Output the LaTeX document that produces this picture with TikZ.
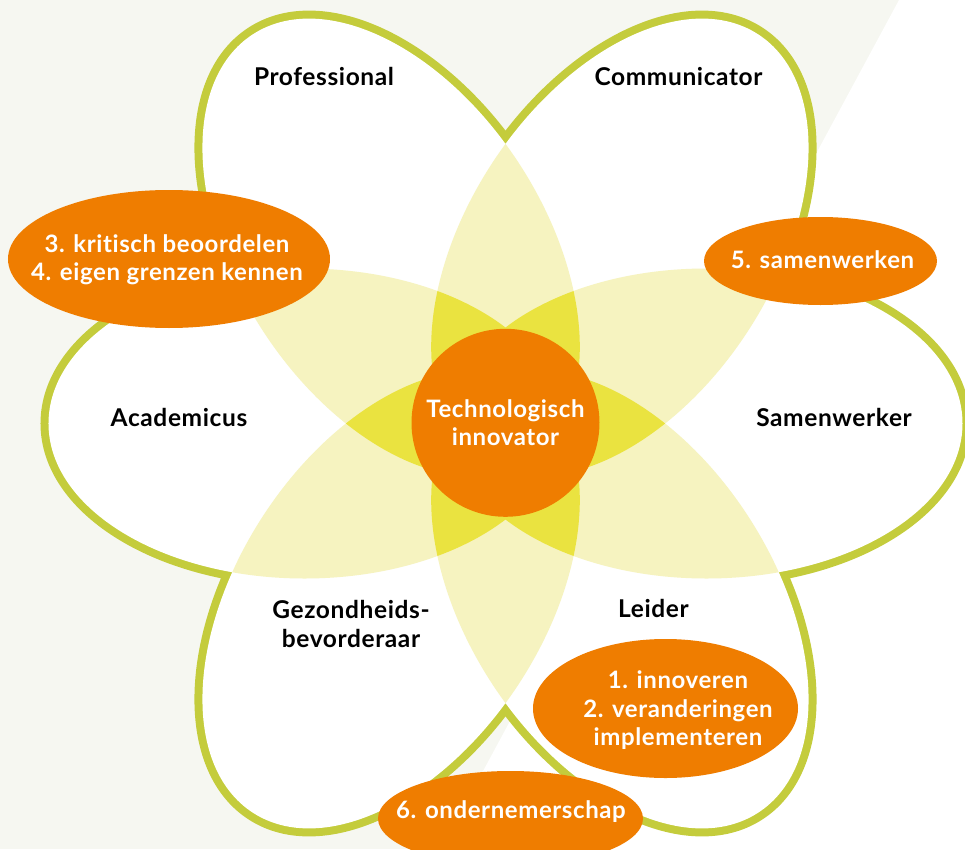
\documentclass[tikz,border=0pt]{standalone}
\usepackage{fontspec}
\setmainfont{Lato}[LetterSpace = 2.5, Ligatures = NoCommon]
\definecolor{paper}{RGB}{246,247,241}
\definecolor{rimgreen}{RGB}{196,204,60}
\definecolor{paleyellow}{RGB}{246,243,192}
\definecolor{brightyellow}{RGB}{234,227,64}
\definecolor{oranje}{RGB}{239,125,0}
\newcommand{\academicus}{(-201,0) ellipse [x radius=256, y radius=155]}
\newcommand{\samenwerker}{(201,0) ellipse [x radius=256, y radius=155]}
\newcommand{\professional}{(123:210) ellipse [x radius=254, y radius=153, rotate=123]}
\newcommand{\communicator}{(57:210) ellipse [x radius=254, y radius=153, rotate=57]}
\newcommand{\gezondheid}{(237:210) ellipse [x radius=254, y radius=153, rotate=237]}
\newcommand{\leider}{(303:210) ellipse [x radius=254, y radius=153, rotate=303]}
\begin{document}
\begin{tikzpicture}[
        x = 1pt,
        y = 1pt,
        rim/.style = {draw = rimgreen, line width = 16pt},
        role/.style = {font = \bfseries\fontsize{24.5}{29}\selectfont, align = center},
        bubbletext/.style = {text = white, font = \bfseries\fontsize{24}{28.5}\selectfont, align = center},
        heart/.style = {circle, fill = oranje, minimum size = 188pt, inner sep = 0pt,
            text = white, font = \bfseries\fontsize{24}{28.5}\selectfont, align = center}
    ]
        \useasboundingbox (-505.5, -425.5) rectangle (459.5, 423.5);
        \fill[paper] (-505.5, -425.5) rectangle (459.5, 423.5);
        \fill[white] (393.5, 423.5) -- (459.5, 423.5) -- (459.5, -425.5) -- (-64.5, -425.5) -- cycle;

        \draw[rim] \academicus \samenwerker \professional \communicator \gezondheid \leider;
        \fill[white] \academicus \samenwerker \professional \communicator \gezondheid \leider;

        \begin{scope}
            \clip \academicus;
            \fill[paleyellow] \professional;
        \end{scope}
        \begin{scope}
            \clip \professional;
            \fill[paleyellow] \communicator;
        \end{scope}
        \begin{scope}
            \clip \communicator;
            \fill[paleyellow] \samenwerker;
        \end{scope}
        \begin{scope}
            \clip \samenwerker;
            \fill[paleyellow] \leider;
        \end{scope}
        \begin{scope}
            \clip \leider;
            \fill[paleyellow] \gezondheid;
        \end{scope}
        \begin{scope}
            \clip \gezondheid;
            \fill[paleyellow] \academicus;
        \end{scope}

        \begin{scope}
            \clip \gezondheid;
            \clip \academicus;
            \fill[brightyellow] \professional;
        \end{scope}
        \begin{scope}
            \clip \academicus;
            \clip \professional;
            \fill[brightyellow] \communicator;
        \end{scope}
        \begin{scope}
            \clip \professional;
            \clip \communicator;
            \fill[brightyellow] \samenwerker;
        \end{scope}
        \begin{scope}
            \clip \communicator;
            \clip \samenwerker;
            \fill[brightyellow] \leider;
        \end{scope}
        \begin{scope}
            \clip \samenwerker;
            \clip \leider;
            \fill[brightyellow] \gezondheid;
        \end{scope}
        \begin{scope}
            \clip \leider;
            \clip \gezondheid;
            \fill[brightyellow] \academicus;
        \end{scope}

        \node[heart] (innovator) at (0, 0.7) {Technologisch\\innovator};

        \node[role, anchor = base] (professional) at (-181.5, 337.5) {Professional};
        \node[role, anchor = base] (communicator) at (173, 337.5) {Communicator};
        \node[role, anchor = base] (academicus) at (-326.5, -3.2) {Academicus};
        \node[role, anchor = base] (samenwerker) at (328.5, -3.2) {Samenwerker};
        \node[role, anchor = base] (leider) at (148, -193.5) {Leider};
        \node[role] (gezondheid) at (-154.5, -200) {Gezondheids-\\bevorderaar};

        \fill[oranje] (-336.5, 164.5) ellipse [x radius = 161, y radius = 69];
        \node[bubbletext] (kritisch) at (-338.5, 164) {3. kritisch beoordelen\\4. eigen grenzen kennen};
        \fill[oranje] (315, 162.5) ellipse [x radius = 116.5, y radius = 44];
        \node[bubbletext, anchor = base] (samenwerken) at (317, 155.5) {5. samenwerken};
        \fill[oranje] (160, -285) ellipse [x radius = 132.5, y radius = 69.5];
        \node[bubbletext] (innoveren) at (172.5, -287) {1. innoveren\\2. veranderingen\\implementeren};
        \fill[oranje] (5, -395) ellipse [x radius = 132.5, y radius = 47.5];
        \node[bubbletext, anchor = base] (ondernemerschap) at (5.5, -394.5) {6. ondernemerschap};
    \end{tikzpicture}
\end{document}
